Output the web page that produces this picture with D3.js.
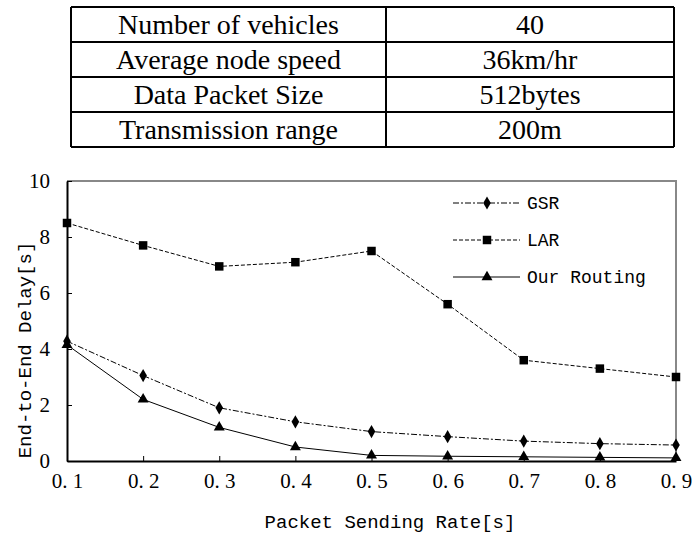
<!DOCTYPE html>
<html>
<head>
<meta charset="utf-8">
<script src="https://cdn.jsdelivr.net/npm/d3@7"></script>
<style>
  body { margin: 0; background: #fff; }
  .cell { font-family: "Liberation Serif", serif; font-size: 28px; fill: #000; }
  .tick-lbl { font-family: "Liberation Serif", serif; font-size: 21px; fill: #000; }
  .title { font-family: "Liberation Mono", monospace; font-size: 19px; fill: #000; }
  .leg { font-family: "Liberation Mono", monospace; font-size: 18px; fill: #000; }
</style>
</head>
<body>
<div id="chart"></div>
<script>
// table content
var tableLabels = ["Number of vehicles", "Average node speed", "Data Packet Size", "Transmission range"];
var tableValues = ["40", "36km/hr", "512bytes", "200m"];

// chart data
var rates = [0.1, 0.2, 0.3, 0.4, 0.5, 0.6, 0.7, 0.8, 0.9];
var rateLabels = ["0. 1", "0. 2", "0. 3", "0. 4", "0. 5", "0. 6", "0. 7", "0. 8", "0. 9"];
var delayTicks = [0, 2, 4, 6, 8, 10];
var gsr = [4.28, 3.05, 1.9, 1.4, 1.05, 0.87, 0.71, 0.62, 0.57];
var lar = [8.5, 7.7, 6.95, 7.1, 7.5, 5.6, 3.6, 3.3, 3.0];
var ours = [4.15, 2.2, 1.2, 0.5, 0.2, 0.17, 0.15, 0.13, 0.11];
var seriesNames = ["GSR", "LAR", "Our Routing"];

var W = 693, H = 537;
var svg = d3.select("#chart").append("svg")
    .attr("width", W)
    .attr("height", H);

// parameter table
var tbl = { x0: 71, x1: 674, xm: 386, y0: 7, rowH: 35 };
var tg = svg.append("g");
tableLabels.forEach(function(lbl, i) {
    var cy = tbl.y0 + tbl.rowH * i + tbl.rowH / 2;
    tg.append("text").attr("class", "cell")
        .attr("x", (tbl.x0 + tbl.xm) / 2).attr("y", cy)
        .attr("text-anchor", "middle").attr("dy", "0.34em")
        .text(lbl);
    tg.append("text").attr("class", "cell")
        .attr("x", (tbl.xm + tbl.x1) / 2).attr("y", cy)
        .attr("text-anchor", "middle").attr("dy", "0.34em")
        .text(tableValues[i]);
});
for (var r = 0; r <= tableLabels.length; r++) {
    tg.append("line")
        .attr("x1", tbl.x0).attr("x2", tbl.x1)
        .attr("y1", tbl.y0 + r * tbl.rowH).attr("y2", tbl.y0 + r * tbl.rowH)
        .attr("stroke", "#000").attr("stroke-width", 2);
}
[tbl.x0, tbl.xm, tbl.x1].forEach(function(x) {
    tg.append("line")
        .attr("x1", x).attr("x2", x)
        .attr("y1", tbl.y0).attr("y2", tbl.y0 + tableLabels.length * tbl.rowH)
        .attr("stroke", "#000").attr("stroke-width", 2);
});

// chart
var xScale = d3.scaleLinear().domain([0.1, 0.9]).range([67, 676]);
var yScale = d3.scaleLinear().domain([0, 10]).range([461, 181]);

// frame (top/right grey)
svg.append("path")
    .attr("d", "M" + xScale(0.1) + "," + yScale(10) + "H" + xScale(0.9) + "V" + yScale(0))
    .attr("fill", "none").attr("stroke", "#888").attr("stroke-width", 2);

var xAxis = d3.axisBottom(xScale)
    .tickValues(rates)
    .tickFormat(function(d, i) { return rateLabels[i]; })
    .tickSizeInner(-5).tickSizeOuter(0)
    .tickPadding(12);
var gx = svg.append("g")
    .attr("transform", "translate(0," + yScale(0) + ")")
    .call(xAxis);
gx.select(".domain").attr("stroke", "#000").attr("stroke-width", 2);
gx.selectAll(".tick line").attr("stroke", "#000");
gx.selectAll(".tick text").attr("class", "tick-lbl").attr("font-size", null).attr("font-family", null);

var yAxis = d3.axisLeft(yScale)
    .tickValues(delayTicks)
    .tickSizeInner(-5).tickSizeOuter(0)
    .tickPadding(17);
var gy = svg.append("g")
    .attr("transform", "translate(" + xScale(0.1) + ",0)")
    .call(yAxis);
gy.select(".domain").attr("stroke", "#000").attr("stroke-width", 2);
gy.selectAll(".tick line").attr("stroke", "#000");
gy.selectAll(".tick text").attr("class", "tick-lbl").attr("font-size", null).attr("font-family", null);

svg.append("text").attr("class", "title")
    .attr("x", 390).attr("y", 521).attr("dy", "0.35em")
    .attr("text-anchor", "middle")
    .text("Packet Sending Rate[s]");
svg.append("text").attr("class", "title")
    .attr("transform", "translate(24,350) rotate(-90)")
    .attr("dy", "0.35em")
    .attr("text-anchor", "middle")
    .text("End-to-End Delay[s]");

var series = [
    { name: seriesNames[0], values: gsr, dash: "6,2,2,2", symbol: d3.symbolDiamond, size: 50 },
    { name: seriesNames[1], values: lar, dash: "4,2", symbol: d3.symbolSquare, size: 72 },
    { name: seriesNames[2], values: ours, dash: null, symbol: d3.symbolTriangle, size: 52 }
];

var line = d3.line()
    .x(function(d, i) { return xScale(rates[i]); })
    .y(function(d) { return yScale(d); });

series.forEach(function(s) {
    svg.append("path")
        .datum(s.values)
        .attr("d", line)
        .attr("fill", "none")
        .attr("stroke", "#000")
        .attr("stroke-width", 1)
        .attr("stroke-dasharray", s.dash);
    svg.append("g").selectAll("path")
        .data(s.values)
        .enter()
        .append("path")
        .attr("transform", function(d, i) { return "translate(" + xScale(rates[i]) + "," + yScale(d) + ")"; })
        .attr("d", d3.symbol().type(s.symbol).size(s.size))
        .attr("fill", "#000");
});

// legend
var leg = svg.append("g");
series.forEach(function(s, i) {
    var y = 203 + i * 37;
    leg.append("line")
        .attr("x1", 453).attr("x2", 520)
        .attr("y1", y).attr("y2", y)
        .attr("stroke", "#000").attr("stroke-width", 1)
        .attr("stroke-dasharray", s.dash);
    leg.append("path")
        .attr("transform", "translate(487," + y + ")")
        .attr("d", d3.symbol().type(s.symbol).size(s.size))
        .attr("fill", "#000");
    leg.append("text").attr("class", "leg")
        .attr("x", 527).attr("y", y).attr("dy", "0.35em")
        .text(s.name);
});
</script>
</body>
</html>
